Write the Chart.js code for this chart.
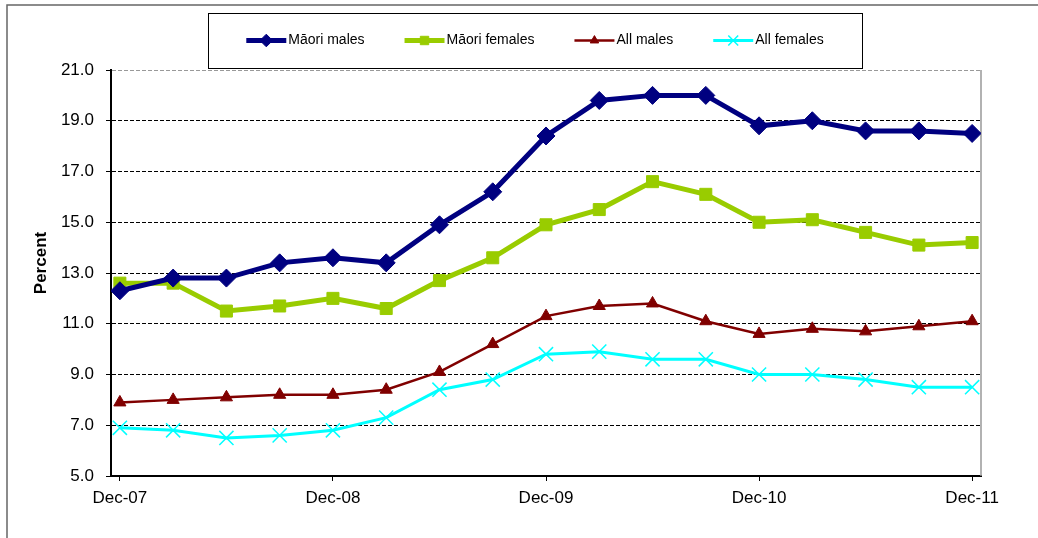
<!DOCTYPE html>
<html>
<head>
<meta charset="utf-8">
<script src="https://cdn.jsdelivr.net/npm/chart.js@4.4.1/dist/chart.umd.min.js"></script>
<style>
    html, body { margin: 0; padding: 0; background: #fff; }
    #wrap { width: 1038px; height: 538px; }
</style>
</head>
<body>
<div id="wrap"><canvas id="chart" width="1038" height="538"></canvas></div>
<script>
// ============================================
// DATA
// ============================================
const quarters = ['Dec-07', 'Mar-08', 'Jun-08', 'Sep-08', 'Dec-08', 'Mar-09', 'Jun-09', 'Sep-09',
                  'Dec-09', 'Mar-10', 'Jun-10', 'Sep-10', 'Dec-10', 'Mar-11', 'Jun-11', 'Sep-11', 'Dec-11']
const maoriMales   = [12.3, 12.8, 12.8, 13.4, 13.6, 13.4, 14.9, 16.2, 18.4, 19.8, 20.0, 20.0, 18.8, 19.0, 18.6, 18.6, 18.5]
const maoriFemales = [12.6, 12.6, 11.5, 11.7, 12.0, 11.6, 12.7, 13.6, 14.9, 15.5, 16.6, 16.1, 15.0, 15.1, 14.6, 14.1, 14.2]
const allMales     = [7.9, 8.0, 8.1, 8.2, 8.2, 8.4, 9.1, 10.2, 11.3, 11.7, 11.8, 11.1, 10.6, 10.8, 10.7, 10.9, 11.1]
const allFemales   = [6.9, 6.8, 6.5, 6.6, 6.8, 7.3, 8.4, 8.8, 9.8, 9.9, 9.6, 9.6, 9.0, 9.0, 8.8, 8.5, 8.5]
const yTicks = [5, 7, 9, 11, 13, 15, 17, 19, 21]

// x is months since Dec-07, one point per quarter
const toPoints = vals => vals.map((v, i) => ({ x: i * 3, y: v }))
const xTicks = quarters.map((q, i) => q.startsWith('Dec') ? i * 3 : null).filter(v => v !== null)

const FONT = '"Liberation Sans", Arial, sans-serif'
Chart.defaults.font.family = FONT
Chart.defaults.color = '#000'

// ============================================
// PLUGINS
// ============================================
const legendBox = { left: 208, top: 13, width: 654, height: 55 }

const frame = {
    id: 'frame',
    beforeDraw(chart) {
        const ctx = chart.ctx
        ctx.save()
        ctx.fillStyle = '#fff'
        ctx.fillRect(0, 0, chart.width, chart.height)
        ctx.strokeStyle = '#666'
        ctx.lineWidth = 1.5
        ctx.beginPath()
        ctx.moveTo(7, chart.height)
        ctx.lineTo(7, 5)
        ctx.lineTo(chart.width, 5)
        ctx.stroke()
        ctx.restore()
    },
    beforeDatasetsDraw(chart) {
        const { ctx, chartArea } = chart
        ctx.save()
        ctx.strokeStyle = '#999'
        ctx.lineWidth = 1.5
        ctx.beginPath()
        ctx.moveTo(chartArea.right, chartArea.top)
        ctx.lineTo(chartArea.right, chartArea.bottom)
        ctx.stroke()

        // y axis title
        ctx.translate(41, 263)
        ctx.rotate(-Math.PI / 2)
        ctx.font = 'bold 17px ' + FONT
        ctx.fillStyle = '#000'
        ctx.textAlign = 'center'
        ctx.textBaseline = 'middle'
        ctx.fillText('Percent', 0, 0)
        ctx.restore()
    }
}

const boxedLegend = {
    id: 'boxedLegend',
    afterDraw(chart) {
        const ctx = chart.ctx
        ctx.save()
        ctx.strokeStyle = '#000'
        ctx.lineWidth = 1
        ctx.strokeRect(legendBox.left + 0.5, legendBox.top + 0.5, legendBox.width, legendBox.height)

        ctx.font = '14px ' + FONT
        ctx.textBaseline = 'middle'
        const sample = 40, gap = 2, itemGap = 40
        const items = chart.data.datasets.map(ds => ({ ds, w: sample + gap + ctx.measureText(ds.label).width }))
        const total = items.reduce((s, it) => s + it.w, 0) + itemGap * (items.length - 1)
        let x = legendBox.left + (legendBox.width - total) / 2
        const y = legendBox.top + legendBox.height / 2

        items.forEach(({ ds, w }) => {
            ctx.strokeStyle = ds.borderColor
            ctx.lineWidth = ds.borderWidth
            ctx.beginPath()
            ctx.moveTo(x, y)
            ctx.lineTo(x + sample, y)
            ctx.stroke()

            if (Chart.helpers && Chart.helpers.drawPoint) {
                ctx.fillStyle = ds.pointBackgroundColor
                ctx.strokeStyle = ds.pointBorderColor
                ctx.lineWidth = ds.pointBorderWidth
                Chart.helpers.drawPoint(ctx, {
                    pointStyle: ds.pointStyle,
                    rotation: 0,
                    radius: ds.pointRadius * 0.7,
                    borderWidth: ds.pointBorderWidth
                }, x + sample / 2, y)
            }

            ctx.fillStyle = '#000'
            ctx.fillText(ds.label, x + sample + gap, y)
            x += w + itemGap
        })
        ctx.restore()
    }
}

// ============================================
// CHART
// ============================================
function series(label, values, color, width, style, radius, markerBorder) {
    return {
        label,
        data: toPoints(values),
        borderColor: color,
        backgroundColor: color,
        borderWidth: width,
        pointStyle: style,
        pointRadius: radius,
        pointBackgroundColor: color,
        pointBorderColor: color,
        pointBorderWidth: markerBorder,
        tension: 0,
        fill: false
    }
}

new Chart(document.getElementById('chart').getContext('2d'), {
    type: 'line',
    data: {
        datasets: [
            series('Māori males', maoriMales, '#000080', 5, 'rectRot', 9, 1),
            series('Māori females', maoriFemales, '#99CC00', 5, 'rect', 8.5, 1),
            series('All males', allMales, '#800000', 2.5, 'triangle', 7, 1),
            series('All females', allFemales, '#00FFFF', 3, 'crossRot', 10, 1.5)
        ]
    },
    options: {
        responsive: false,
        animation: false,
        devicePixelRatio: 1,
        layout: { padding: { left: 0, top: 70, right: 57, bottom: 0 } },
        plugins: {
            legend: { display: false },
            tooltip: { enabled: false }
        },
        scales: {
            x: {
                type: 'linear',
                min: -0.5,
                max: 48.5,
                afterBuildTicks: s => { s.ticks = xTicks.map(v => ({ value: v })) },
                afterFit: s => { s.height = 62 },
                ticks: {
                    autoSkip: false,
                    maxRotation: 0,
                    padding: 7,
                    font: { size: 17 },
                    color: '#000',
                    callback: v => quarters[Math.round(v / 3)]
                },
                grid: { drawOnChartArea: false, tickLength: 5, color: '#000' },
                border: { color: '#000', width: 2 }
            },
            y: {
                min: 5,
                max: 21,
                afterBuildTicks: s => { s.ticks = yTicks.map(v => ({ value: v })) },
                afterFit: s => { s.width = 111 },
                ticks: {
                    padding: 12,
                    font: { size: 17 },
                    color: '#000',
                    callback: v => v.toFixed(1)
                },
                grid: {
                    color: c => (c.tick && c.tick.value === 21) ? '#999' : '#000',
                    tickColor: '#000',
                    lineWidth: 1,
                    tickLength: 5
                },
                border: { color: '#000', width: 2, dash: [4, 2] }
            }
        }
    },
    plugins: [frame, boxedLegend]
})
</script>
</body>
</html>
